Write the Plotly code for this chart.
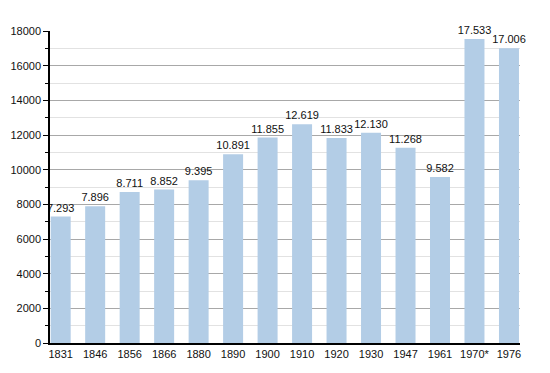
import plotly.graph_objects as go

years = ["1831", "1846", "1856", "1866", "1880", "1890", "1900", "1910", "1920", "1930", "1947", "1961", "1970*", "1976"]
population = [7293, 7896, 8711, 8852, 9395, 10891, 11855, 12619, 11833, 12130, 11268, 9582, 17533, 17006]
labels = [f"{v:,}".replace(",", ".") for v in population]
y_ticks = [0, 2000, 4000, 6000, 8000, 10000, 12000, 14000, 16000, 18000]

fig = go.Figure()
fig.add_trace(go.Bar(
    x=list(range(len(years))), y=population,
    text=labels, textposition="outside", cliponaxis=False, constraintext="none",
    textfont=dict(family="Liberation Sans, Arial", size=11, color="#111"),
    marker=dict(color="#b3cde6", line=dict(width=0)),
    width=0.58, hoverinfo="skip",
))
fig.update_layout(
    width=550, height=373,
    margin=dict(l=50, r=30, t=31, b=30, autoexpand=False),
    paper_bgcolor="white", plot_bgcolor="white",
    showlegend=False,
    font=dict(family="Liberation Sans, Arial", size=11, color="#111"),
    xaxis=dict(
        range=[-0.31, 13.32], automargin=False,
        tickmode="array", tickvals=list(range(len(years))), ticktext=years,
        showgrid=False, showline=True, linecolor="black", linewidth=1.5,
        ticks="", zeroline=False, ticklabelstandoff=0,
    ),
    yaxis=dict(
        range=[0, 18000], automargin=False,
        tickmode="array", tickvals=y_ticks, ticktext=[str(t) for t in y_ticks],
        showgrid=True, gridcolor="#a8a8a8", gridwidth=1,
        showline=True, linecolor="black", linewidth=1.5,
        ticks="outside", ticklen=5, tickcolor="black",
        zeroline=False,
        minor=dict(dtick=1000, showgrid=True, gridcolor="#e2e2e2", ticks="outside", ticklen=3, tickcolor="black"),
    ),
)
fig.write_html("out.html", config={"displayModeBar": False}, post_script="document.body.style.margin='0';")
